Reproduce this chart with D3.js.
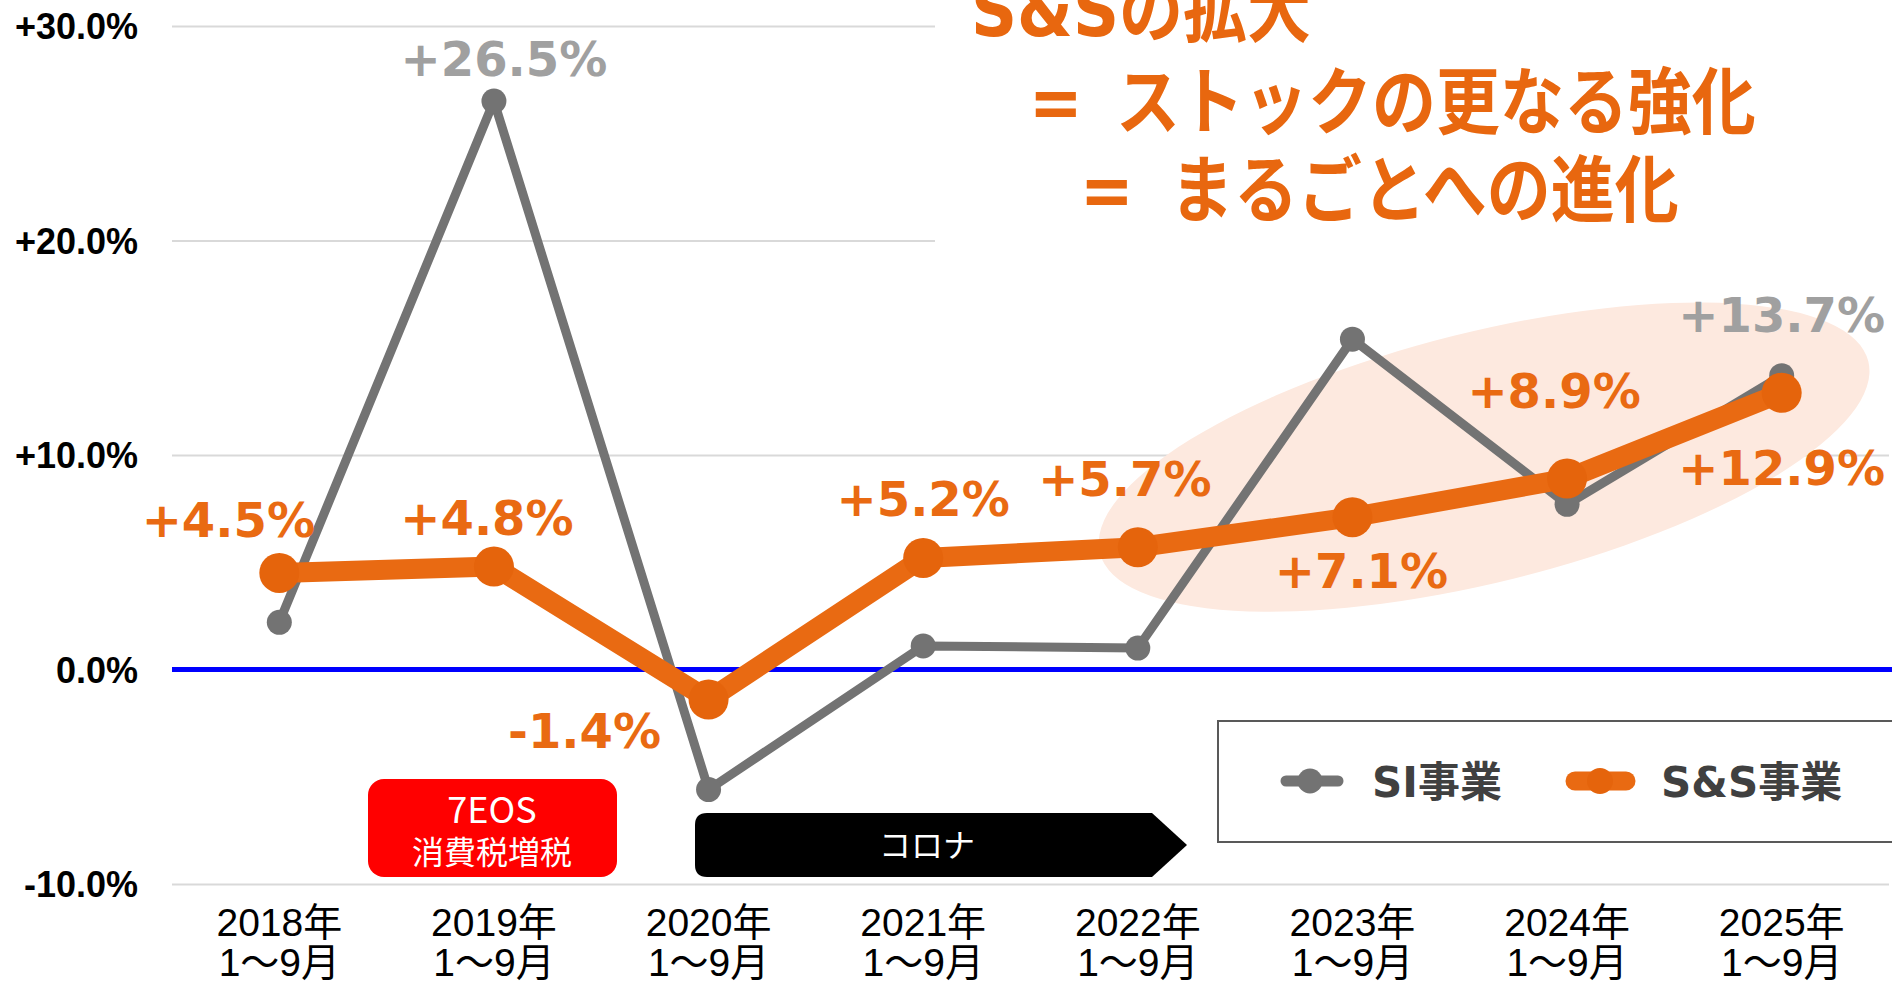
<!DOCTYPE html>
<html>
<head>
<meta charset="utf-8">
<script src="https://cdn.jsdelivr.net/npm/d3@7"></script>
<style>
  body { margin: 0; background: #fff; }
  svg { display: block; }
  .ytick text { font-family: "Liberation Sans", Arial, sans-serif; font-weight: bold; font-size: 36px; fill: #000; }
  .xlab { font-family: "Liberation Sans", "Noto Sans CJK JP", sans-serif; font-size: 39px; fill: #000; }
  .val { font-family: "DejaVu Sans", "Noto Sans CJK JP", sans-serif; font-weight: bold; font-size: 48px; }
</style>
</head>
<body>
<svg width="1892" height="981"></svg>
<script>
// data
var years = ["2018年", "2019年", "2020年", "2021年", "2022年", "2023年", "2024年", "2025年"];
var months = "1〜9月";
var siValues = [2.2, 26.5, -5.6, 1.1, 1.0, 15.4, 7.7, 13.7];
var ssValues = [4.5, 4.8, -1.4, 5.2, 5.7, 7.1, 8.9, 12.9];
var siShown = [false, true, false, false, false, false, false, true];
var yTicks = [-10, 0, 10, 20, 30];

// label offsets from the point (layout only)
var ssOffset = [[-51, -36], [-7, -32], [-124, 48], [0, -42], [-13, -51], [9, 71], [-13, -71], [0, 92]];
var siOffset = [null, [10, -25], null, null, null, null, null, [0, -44]];

var svg = d3.select("svg");
var plotLeft = 172, plotRight = 1889, plotTop = 26, plotBottom = 884;

var x = d3.scaleBand().domain(years).range([plotLeft, plotRight]).padding(0);
var cx = function(d) { return x(d) + x.bandwidth() / 2; };
var y = d3.scaleLinear().domain([-10, 30]).range([plotBottom, plotTop]);

var fmt = function(v) { return (v > 0 ? "+" : "") + v.toFixed(1) + "%"; };

var ORANGE = "#e96a12", ORANGE_DOT = "#e5640c", GRAY = "#737373", LABEL_GRAY = "#a0a0a0";

// grid
var grid = svg.append("g")
    .attr("transform", "translate(" + plotLeft + ",0)")
    .call(d3.axisLeft(y).tickValues(yTicks).tickSize(-(plotRight - plotLeft)).tickFormat(""));
grid.select(".domain").remove();
grid.selectAll("line").attr("stroke", "#d9d9d9").attr("stroke-width", 2);

// y labels
var yax = svg.append("g")
    .attr("transform", "translate(" + plotLeft + ",0)")
    .call(d3.axisLeft(y).tickValues(yTicks).tickSize(0).tickPadding(34).tickFormat(fmt));
yax.select(".domain").remove();
yax.selectAll(".tick").attr("class", "tick ytick");
yax.selectAll("text").attr("dy", "0.36em");

// zero line
svg.append("line")
    .attr("x1", plotLeft).attr("x2", 1892)
    .attr("y1", y(0)).attr("y2", y(0))
    .attr("stroke", "#0000ff").attr("stroke-width", 5);

// highlight ellipse
svg.append("ellipse")
    .attr("transform", "translate(" + ((cx(years[5]) + cx(years[7])) / 2 - 83) + "," + y(9.9) + ") rotate(-14)")
    .attr("rx", 396).attr("ry", 125)
    .attr("fill", "#fde9df");

// x axis labels
var xax = svg.append("g")
    .attr("transform", "translate(0," + plotBottom + ")")
    .call(d3.axisBottom(x).tickSize(0).tickFormat(""));
xax.select(".domain").remove();
xax.selectAll(".tick").each(function(d) {
  var t = d3.select(this).append("text").attr("class", "xlab").attr("text-anchor", "middle");
  t.append("tspan").attr("x", 0).attr("y", 52).text(d);
  t.append("tspan").attr("x", 0).attr("y", 92).text(months);
});

// lines
var line = d3.line().x(function(d, i) { return cx(years[i]); }).y(function(d) { return y(d); });

svg.append("path").datum(siValues)
    .attr("d", line).attr("fill", "none")
    .attr("stroke", GRAY).attr("stroke-width", 9).attr("stroke-linejoin", "round");
svg.selectAll(".sidot").data(siValues).enter().append("circle")
    .attr("cx", function(d, i) { return cx(years[i]); })
    .attr("cy", function(d) { return y(d); })
    .attr("r", 12.5).attr("fill", GRAY);

svg.append("path").datum(ssValues)
    .attr("d", line).attr("fill", "none")
    .attr("stroke", ORANGE).attr("stroke-width", 20).attr("stroke-linejoin", "round");
svg.selectAll(".ssdot").data(ssValues).enter().append("circle")
    .attr("cx", function(d, i) { return cx(years[i]); })
    .attr("cy", function(d) { return y(d); })
    .attr("r", 20).attr("fill", ORANGE_DOT);

// value labels
svg.selectAll(".sslab").data(ssValues).enter().append("text")
    .attr("class", "val").attr("text-anchor", "middle").attr("fill", ORANGE)
    .attr("x", function(d, i) { return cx(years[i]) + ssOffset[i][0]; })
    .attr("y", function(d, i) { return y(d) + ssOffset[i][1]; })
    .text(fmt);

svg.selectAll(".silab").data(siValues.filter(function(d, i) { return siShown[i]; })).enter().append("text")
    .attr("class", "val").attr("text-anchor", "middle").attr("fill", LABEL_GRAY)
    .attr("x", function(d) { var i = siValues.indexOf(d); return cx(years[i]) + siOffset[i][0]; })
    .attr("y", function(d) { var i = siValues.indexOf(d); return y(d) + siOffset[i][1]; })
    .text(fmt);

// title (glyphs stretched a little vertically like the original)
svg.append("rect").attr("x", 935).attr("y", 0).attr("width", 957).attr("height", 245).attr("fill", "#fff");
var title = svg.append("g")
    .attr("fill", "#e8670f")
    .style("font-family", "'DejaVu Sans', 'Noto Sans CJK JP', sans-serif")
    .style("font-weight", "bold").style("font-size", "64px");
function titleText(tx, ty, s) {
  title.append("text").attr("transform", "translate(" + tx + "," + ty + ") scale(1,1.14)").text(s);
}
titleText(971, 36, "S&Sの拡大");
titleText(1029, 128, "=");
titleText(1116, 128, "ストックの更なる強化");
titleText(1080, 216, "=");
titleText(1170, 216, "まるごとへの進化");

// annotations
svg.append("rect").attr("x", 368).attr("y", 779).attr("width", 249).attr("height", 98)
    .attr("rx", 16).attr("fill", "#ff0000");
svg.append("path")
    .attr("d", "M707,813 L1152,813 L1187,845 L1152,877 L707,877 Q695,877 695,865 L695,825 Q695,813 707,813 Z")
    .attr("fill", "#000");
var at = svg.append("g")
    .style("font-family", "'Noto Sans CJK JP', sans-serif").style("font-size", "32px")
    .attr("fill", "#fff").attr("text-anchor", "middle");
at.append("text").attr("x", 492).attr("y", 823).style("font-size", "36px").text("7EOS");
at.append("text").attr("x", 492).attr("y", 864).text("消費税増税");
at.append("text").attr("x", 927).attr("y", 857).text("コロナ");

// legend
var lg = svg.append("g");
lg.append("rect").attr("x", 1218).attr("y", 721).attr("width", 700).attr("height", 121)
    .attr("fill", "#fff").attr("stroke", "#595959").attr("stroke-width", 2);
lg.append("line").attr("x1", 1286).attr("x2", 1338).attr("y1", 781).attr("y2", 781)
    .attr("stroke", GRAY).attr("stroke-width", 11).attr("stroke-linecap", "round");
lg.append("circle").attr("cx", 1310).attr("cy", 781).attr("r", 12.5).attr("fill", GRAY);
lg.append("line").attr("x1", 1575).attr("x2", 1626).attr("y1", 781).attr("y2", 781)
    .attr("stroke", ORANGE).attr("stroke-width", 19).attr("stroke-linecap", "round");
lg.append("circle").attr("cx", 1600).attr("cy", 781).attr("r", 13).attr("fill", ORANGE_DOT);
var lt = lg.append("g").attr("fill", "#404040")
    .style("font-family", "'DejaVu Sans', 'Noto Sans CJK JP', sans-serif")
    .style("font-weight", "bold").style("font-size", "42px");
lt.append("text").attr("x", 1372).attr("y", 797).text("SI事業");
lt.append("text").attr("x", 1661).attr("y", 797).text("S&S事業");
</script>
</body>
</html>
